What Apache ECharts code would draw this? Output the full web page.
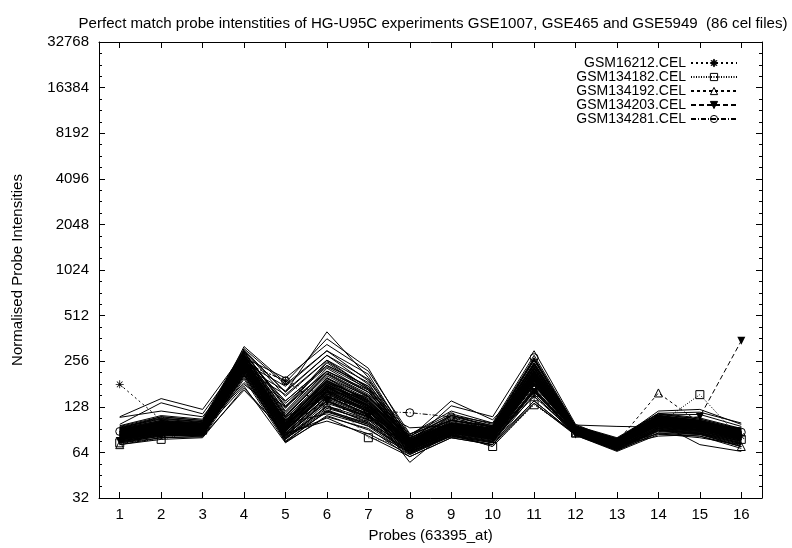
<!DOCTYPE html>
<html>
<head>
<meta charset="utf-8">
<script src="https://cdn.jsdelivr.net/npm/echarts@6/dist/echarts.min.js"></script>
<style>
  html, body { margin: 0; padding: 0; background: #ffffff; }
  #chart { width: 792px; height: 548px; }
</style>
</head>
<body>
<div id="chart"></div>
<script>
// Probe positions along the x axis
const probes = ['1', '2', '3', '4', '5', '6', '7', '8', '9', '10', '11', '12', '13', '14', '15', '16'];

// Labels for the base-2 intensity axis (2^5 .. 2^15)
const yTickLabels = ['32', '64', '128', '256', '512', '1024', '2048', '4096', '8192', '16384', '32768'];

// Highlighted arrays (normalised PM intensities per probe)
const gsm16212  = [180, 105, 95, 250, 190, 150, 120, 72, 92, 85, 150, 88, 72, 100, 95, 82];
const gsm134182 = [74, 78, 90, 230, 100, 150, 80, 70, 85, 70, 132, 86, 72, 98, 154, 78];
const gsm134192 = [72, 85, 90, 230, 100, 160, 110, 70, 90, 85, 170, 86, 75, 158, 100, 70];
const gsm134203 = [76, 82, 90, 220, 95, 140, 110, 70, 88, 80, 160, 84, 70, 105, 110, 349];
const gsm134281 = [88, 95, 95, 250, 190, 125, 120, 117, 110, 90, 270, 90, 72, 105, 95, 87];

// Remaining arrays of the collection, one row per cel file
const arrayProfiles = [
  [86, 95, 94, 260, 92, 170, 130, 72, 94, 85, 205, 90, 74, 102, 96, 83],
  [82, 90, 90, 240, 88, 160, 120, 70, 90, 82, 195, 88, 72, 98, 93, 80],
  [90, 100, 98, 280, 110, 210, 150, 76, 98, 90, 230, 92, 76, 108, 100, 86],
  [78, 86, 86, 220, 82, 140, 110, 66, 86, 78, 180, 86, 70, 94, 90, 78],
  [94, 108, 102, 300, 150, 260, 170, 80, 104, 94, 250, 94, 78, 112, 104, 90],
  [74, 82, 84, 200, 78, 130, 100, 64, 84, 76, 165, 85, 68, 90, 86, 74],
  [88, 98, 96, 270, 100, 190, 140, 74, 96, 88, 215, 91, 75, 105, 98, 85],
  [84, 92, 92, 250, 95, 175, 125, 71, 92, 84, 200, 89, 73, 100, 95, 82],
  [80, 88, 88, 235, 86, 150, 115, 68, 88, 80, 185, 87, 71, 96, 92, 79],
  [96, 112, 106, 310, 180, 300, 190, 84, 115, 98, 270, 96, 80, 116, 108, 92],
  [110, 145, 123, 290, 130, 220, 160, 78, 100, 92, 240, 93, 77, 110, 102, 88],
  [98, 136, 115, 275, 140, 240, 175, 82, 112, 96, 260, 95, 79, 114, 106, 91],
  [76, 84, 82, 210, 76, 120, 95, 62, 82, 74, 160, 84, 67, 88, 84, 72],
  [92, 104, 100, 285, 120, 230, 160, 78, 102, 92, 240, 93, 77, 110, 102, 88],
  [85, 94, 93, 255, 97, 200, 135, 73, 93, 86, 210, 90, 74, 103, 97, 84],
  [81, 89, 90, 245, 90, 165, 122, 70, 91, 83, 198, 88, 72, 99, 94, 81],
  [87, 97, 95, 265, 105, 185, 145, 75, 97, 89, 220, 91, 75, 106, 99, 86],
  [83, 91, 91, 248, 93, 170, 128, 72, 92, 84, 202, 89, 73, 101, 95, 82],
  [79, 87, 87, 230, 84, 145, 112, 67, 87, 79, 182, 87, 70, 95, 91, 78],
  [93, 106, 101, 295, 125, 250, 165, 79, 108, 93, 245, 94, 78, 111, 103, 89],
  [77, 85, 85, 215, 80, 125, 105, 65, 85, 77, 170, 85, 69, 92, 88, 76],
  [89, 99, 97, 275, 112, 205, 148, 76, 99, 90, 225, 92, 76, 107, 100, 87],
  [85, 93, 93, 252, 96, 180, 132, 73, 93, 85, 205, 90, 74, 102, 96, 83],
  [82, 90, 89, 238, 89, 155, 118, 69, 89, 81, 190, 88, 72, 97, 93, 80],
  [91, 102, 99, 282, 115, 215, 155, 77, 100, 91, 232, 92, 76, 109, 101, 87],
  [75, 83, 83, 205, 79, 118, 98, 63, 83, 75, 162, 84, 68, 89, 85, 73],
  [86, 96, 94, 262, 100, 178, 138, 74, 95, 87, 212, 90, 74, 104, 97, 84],
  [80, 88, 88, 232, 85, 150, 114, 68, 88, 80, 184, 87, 71, 96, 91, 78],
  [95, 110, 104, 305, 160, 280, 180, 82, 110, 96, 262, 95, 79, 115, 106, 91],
  [84, 92, 92, 250, 94, 168, 126, 72, 92, 84, 200, 89, 73, 100, 95, 82],
  [72, 80, 81, 195, 75, 110, 92, 60, 80, 72, 155, 83, 66, 86, 82, 70],
  [88, 97, 96, 268, 102, 192, 142, 75, 96, 88, 218, 91, 75, 105, 98, 85],
  [83, 91, 90, 244, 91, 162, 124, 71, 91, 83, 196, 88, 72, 99, 94, 81],
  [90, 101, 98, 278, 108, 198, 150, 77, 106, 90, 228, 92, 76, 108, 100, 86],
  [78, 86, 86, 222, 83, 138, 108, 66, 86, 78, 176, 86, 70, 93, 89, 77],
  [87, 96, 95, 258, 98, 186, 134, 74, 95, 87, 210, 90, 74, 104, 97, 84],
  [81, 89, 89, 240, 88, 158, 120, 69, 90, 82, 192, 88, 72, 98, 93, 80],
  [92, 104, 100, 290, 135, 235, 168, 79, 113, 93, 242, 93, 77, 111, 103, 88],
  [76, 84, 84, 212, 81, 128, 102, 64, 84, 76, 168, 85, 69, 91, 87, 75],
  [85, 94, 93, 254, 97, 172, 130, 73, 94, 86, 206, 90, 74, 102, 96, 83],
  [88, 100, 96, 300, 160, 400, 200, 78, 98, 90, 235, 92, 76, 108, 100, 86],
  [84, 96, 94, 320, 185, 360, 230, 80, 100, 92, 250, 93, 77, 110, 102, 88],
  [90, 100, 98, 270, 198, 330, 220, 85, 104, 95, 260, 94, 78, 112, 104, 90],
  [86, 94, 92, 250, 175, 300, 210, 76, 96, 88, 220, 91, 75, 106, 98, 85],
  [82, 90, 90, 235, 163, 280, 195, 74, 94, 86, 212, 90, 74, 104, 97, 84],
  [80, 88, 88, 225, 154, 260, 185, 72, 92, 84, 205, 89, 73, 101, 95, 82],
  [78, 86, 86, 215, 140, 240, 175, 70, 90, 82, 196, 88, 72, 99, 94, 81],
  [76, 84, 84, 205, 127, 220, 165, 68, 88, 80, 188, 87, 71, 97, 92, 79],
  [109, 120, 110, 240, 100, 180, 130, 93, 96, 88, 210, 97, 95, 94, 90, 80],
  [84, 92, 92, 180, 110, 150, 125, 55, 92, 84, 200, 89, 73, 100, 72, 65],
  [74, 80, 82, 165, 86, 103, 85, 62, 82, 74, 140, 84, 66, 86, 85, 70],
  [72, 78, 80, 170, 84, 108, 82, 60, 80, 72, 135, 83, 65, 84, 82, 68],
  [80, 88, 88, 175, 74, 112, 90, 64, 86, 78, 150, 85, 68, 90, 86, 74],
  [86, 96, 94, 185, 100, 115, 96, 66, 88, 80, 165, 86, 70, 92, 88, 76],
  [92, 110, 104, 250, 75, 120, 100, 70, 92, 84, 180, 88, 72, 96, 90, 80],
  [88, 102, 98, 255, 78, 130, 106, 72, 95, 88, 190, 90, 74, 102, 95, 84],
  [79, 86, 87, 228, 80, 135, 110, 84, 120, 100, 195, 88, 72, 98, 93, 80],
  [83, 90, 90, 245, 90, 160, 150, 80, 140, 105, 210, 90, 74, 104, 97, 84],
  [86, 95, 94, 262, 95, 175, 140, 74, 130, 110, 300, 98, 76, 112, 100, 88],
  [85, 93, 92, 255, 92, 180, 132, 72, 112, 100, 280, 96, 75, 110, 100, 86],
  [82, 90, 90, 242, 88, 165, 120, 70, 104, 96, 265, 94, 74, 107, 98, 85],
  [80, 88, 88, 232, 86, 150, 115, 68, 84, 70, 135, 84, 67, 92, 88, 78],
  [77, 85, 85, 218, 82, 140, 105, 65, 82, 72, 140, 84, 66, 90, 86, 76],
  [91, 103, 99, 285, 118, 220, 160, 76, 100, 92, 230, 93, 77, 120, 123, 98],
  [87, 98, 96, 272, 104, 196, 145, 74, 97, 89, 222, 92, 76, 116, 118, 100],
  [84, 92, 91, 248, 96, 174, 128, 72, 93, 85, 203, 89, 73, 113, 114, 95],
  [81, 90, 89, 240, 90, 160, 120, 70, 90, 82, 194, 88, 72, 85, 80, 72],
  [79, 87, 87, 230, 86, 148, 113, 67, 87, 79, 186, 87, 71, 82, 84, 70],
  [89, 99, 97, 268, 108, 190, 142, 75, 97, 89, 220, 91, 75, 106, 98, 93],
  [83, 91, 91, 246, 92, 166, 126, 71, 91, 83, 198, 89, 73, 100, 95, 90],
  [86, 95, 94, 260, 99, 182, 135, 73, 94, 86, 210, 90, 74, 103, 97, 92],
  [93, 107, 102, 298, 128, 255, 170, 80, 104, 94, 248, 94, 78, 112, 104, 89],
  [75, 82, 83, 208, 79, 122, 98, 63, 83, 75, 163, 84, 68, 89, 85, 73],
  [88, 98, 96, 266, 101, 188, 140, 75, 96, 88, 217, 91, 75, 105, 98, 85],
  [82, 90, 90, 243, 90, 162, 123, 70, 90, 82, 193, 88, 72, 98, 93, 80],
  [84, 93, 92, 251, 95, 172, 130, 72, 93, 85, 203, 89, 73, 101, 96, 82],
  [90, 102, 99, 280, 112, 212, 152, 77, 100, 91, 233, 92, 76, 109, 101, 87],
  [78, 86, 86, 224, 83, 142, 110, 66, 86, 78, 178, 86, 70, 94, 89, 77],
  [87, 97, 95, 264, 103, 184, 137, 74, 96, 88, 214, 91, 75, 105, 98, 85],
  [81, 89, 89, 238, 88, 156, 118, 69, 89, 81, 190, 88, 72, 97, 93, 80],
  [85, 94, 93, 256, 97, 176, 131, 73, 94, 86, 207, 90, 74, 102, 96, 83]
];

const FONT = 'Liberation Sans, Arial, Helvetica, sans-serif';
const INK = '#000000';

// Eight-armed asterisk marker
const asterisk = 'path://M0 9L20 9L20 11L0 11Z M9 0L11 0L11 20L9 20Z ' +
  'M2.2 3.6L3.6 2.2L17.8 16.4L16.4 17.8Z M16.4 2.2L17.8 3.6L3.6 17.8L2.2 16.4Z';

const highlighted = [
  { name: 'GSM16212.CEL',  values: gsm16212,  symbol: asterisk,   rotate: 0,   hollow: false, dash: [2, 3] },
  { name: 'GSM134182.CEL', values: gsm134182, symbol: 'rect',     rotate: 0,   hollow: true,  dash: [1, 1.5] },
  { name: 'GSM134192.CEL', values: gsm134192, symbol: 'triangle', rotate: 0,   hollow: true,  dash: [3, 3] },
  { name: 'GSM134203.CEL', values: gsm134203, symbol: 'triangle', rotate: 180, hollow: false, dash: [5, 3] },
  { name: 'GSM134281.CEL', values: gsm134281, symbol: 'circle',   rotate: 0,   hollow: true,  dash: [5, 2, 1, 2] }
];

const series = [];
highlighted.forEach(h => {
  series.push({
    name: h.name,
    type: 'line',
    xAxisIndex: 0,
    yAxisIndex: 0,
    data: h.values,
    symbol: h.symbol,
    symbolSize: 8,
    symbolRotate: h.rotate,
    showSymbol: true,
    showAllSymbol: true,
    z: 2,
    lineStyle: { color: INK, width: 1, type: h.dash },
    itemStyle: {
      color: h.hollow ? 'rgba(0,0,0,0)' : INK,
      borderColor: INK,
      borderWidth: h.hollow ? 1 : 0
    },
    emphasis: { disabled: true }
  });
});
arrayProfiles.forEach((row, i) => {
  series.push({
    name: 'array ' + (i + 1),
    type: 'line',
    xAxisIndex: 0,
    yAxisIndex: 0,
    data: row,
    symbol: 'none',
    z: 3,
    silent: true,
    lineStyle: { color: INK, width: 1 },
    emphasis: { disabled: true }
  });
});

const chart = echarts.init(document.getElementById('chart'), null, { renderer: 'canvas' });

chart.setOption({
  animation: false,
  backgroundColor: '#ffffff',
  title: {
    text: 'Perfect match probe intenstities of HG-U95C experiments GSE1007, GSE465 and GSE5949  (86 cel files)',
    left: 428,
    top: 11,
    textAlign: 'center',
    textStyle: { fontFamily: FONT, fontSize: 15.1, fontWeight: 'normal', color: INK }
  },
  legend: {
    data: highlighted.map(h => h.name),
    orient: 'vertical',
    align: 'right',
    right: 49,
    top: 51,
    itemWidth: 46,
    itemHeight: 9,
    itemGap: 0,
    selectedMode: false,
    itemStyle: { borderWidth: 1 },
    textStyle: { fontFamily: FONT, fontSize: 14, color: INK }
  },
  grid: { left: 99, right: 30, top: 42, bottom: 47, containLabel: false },
  xAxis: [
    {
      type: 'category',
      data: probes,
      position: 'bottom',
      boundaryGap: true,
      name: 'Probes (63395_at)',
      nameLocation: 'middle',
      nameGap: 30,
      nameTextStyle: { fontFamily: FONT, fontSize: 15, color: INK },
      axisLine: { show: true, lineStyle: { color: INK, width: 1 } },
      axisTick: { show: true, inside: true, alignWithLabel: true, length: 6, lineStyle: { color: INK } },
      axisLabel: { fontFamily: FONT, fontSize: 15, color: INK, margin: 9 },
      splitLine: { show: false }
    },
    {
      type: 'category',
      data: probes,
      position: 'top',
      boundaryGap: true,
      axisLine: { show: true, lineStyle: { color: INK, width: 1 } },
      axisTick: { show: true, inside: true, alignWithLabel: true, length: 6, lineStyle: { color: INK } },
      axisLabel: { show: false },
      splitLine: { show: false }
    }
  ],
  yAxis: [
    {
      // data scale: base-2 logarithmic
      type: 'log',
      logBase: 2,
      min: 32,
      max: 32768,
      position: 'left',
      show: false
    },
    {
      // visible left axis, one tick per power of two
      type: 'value',
      min: 5,
      max: 15,
      interval: 1,
      position: 'left',
      name: 'Normalised Probe Intensities',
      nameLocation: 'middle',
      nameRotate: 90,
      nameGap: 74,
      nameTextStyle: { fontFamily: FONT, fontSize: 15, color: INK },
      axisLine: { show: true, lineStyle: { color: INK, width: 1 } },
      axisTick: { show: true, inside: true, length: 6, lineStyle: { color: INK } },
      minorTick: { show: true, splitNumber: 4, length: 3, lineStyle: { color: INK } },
      axisLabel: {
        fontFamily: FONT, fontSize: 15, color: INK, margin: 10,
        formatter: v => yTickLabels[Math.round(v) - 5]
      },
      splitLine: { show: false }
    },
    {
      type: 'value',
      min: 5,
      max: 15,
      interval: 1,
      position: 'right',
      axisLine: { show: true, lineStyle: { color: INK, width: 1 } },
      axisTick: { show: true, inside: true, length: 6, lineStyle: { color: INK } },
      minorTick: { show: true, splitNumber: 4, length: 3, lineStyle: { color: INK } },
      axisLabel: { show: false },
      splitLine: { show: false }
    }
  ],
  series: series
});
</script>
</body>
</html>
